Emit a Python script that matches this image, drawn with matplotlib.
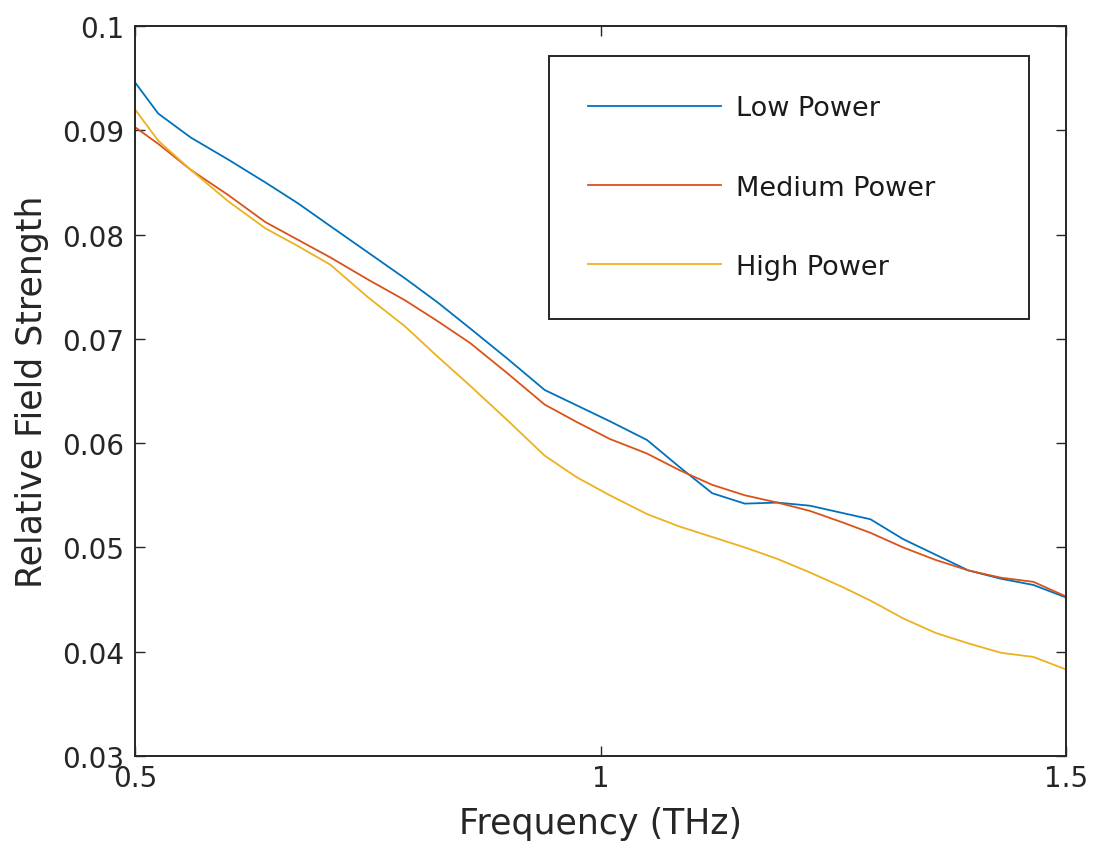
import numpy as np
import matplotlib.pyplot as plt

freq = [0.5, 0.525, 0.56, 0.6, 0.64, 0.675, 0.71, 0.75, 0.79, 0.825,
        0.86, 0.9, 0.94, 0.975, 1.01, 1.05, 1.085, 1.12, 1.155, 1.19,
        1.225, 1.26, 1.29, 1.325, 1.36, 1.395, 1.43, 1.465, 1.5]

low_power = [0.0946, 0.0916, 0.0893, 0.0872, 0.0850, 0.0830, 0.0808, 0.0783, 0.0758, 0.0735,
             0.0710, 0.0681, 0.0651, 0.0636, 0.0621, 0.0603, 0.0577, 0.0552, 0.0542, 0.0543,
             0.0540, 0.0533, 0.0527, 0.0508, 0.0493, 0.0478, 0.0470, 0.0464, 0.0452]

medium_power = [0.0903, 0.0887, 0.0862, 0.0838, 0.0812, 0.0795, 0.0778, 0.0757, 0.0737, 0.0717,
                0.0696, 0.0667, 0.0637, 0.0620, 0.0604, 0.0590, 0.0574, 0.0560, 0.0550, 0.0543,
                0.0535, 0.0524, 0.0514, 0.0500, 0.0488, 0.0478, 0.0471, 0.0467, 0.0453]

high_power = [0.0920, 0.0890, 0.0862, 0.0832, 0.0806, 0.0789, 0.0771, 0.0740, 0.0712, 0.0683,
              0.0655, 0.0622, 0.0588, 0.0567, 0.0550, 0.0532, 0.0520, 0.0510, 0.0500, 0.0489,
              0.0476, 0.0462, 0.0449, 0.0432, 0.0418, 0.0408, 0.0399, 0.0395, 0.0383]

axis_col = (0.15, 0.15, 0.15)

fig = plt.figure(figsize=(10.94, 8.45), dpi=100)
ax = fig.add_axes([135 / 1094, 1 - 757 / 845, 931 / 1094, 730 / 845])

ax.plot(freq, low_power, color='#0072BD', lw=1.3, label='Low Power')
ax.plot(freq, medium_power, color='#D95319', lw=1.3, label='Medium Power')
ax.plot(freq, high_power, color='#EDB120', lw=1.3, label='High Power')

ax.set_xlim(0.5, 1.5)
ax.set_ylim(0.03, 0.1)
ax.set_xticks([0.5, 1, 1.5])
ax.set_xticklabels(['0.5', '1', '1.5'])
ax.set_yticks(np.arange(0.03, 0.1001, 0.01))
ax.set_yticklabels(['0.03', '0.04', '0.05', '0.06', '0.07', '0.08', '0.09', '0.1'])

for s in ax.spines.values():
    s.set_color(axis_col)
    s.set_linewidth(1.4)
ax.tick_params(direction='in', top=True, right=True, length=7, width=1,
               colors=axis_col, labelsize=20)
ax.tick_params(axis='y', pad=7.5)
ax.tick_params(axis='x', pad=6)

ax.set_xlabel('Frequency (THz)', fontsize=25, color=axis_col, labelpad=10)
ax.set_ylabel('Relative Field Strength', fontsize=25, color=axis_col, labelpad=10)

leg = ax.legend(loc='upper left', bbox_to_anchor=(0.4447, 0.62, 0.5156, 0.339),
                mode='expand', fontsize=19.5, handlelength=4.9, handletextpad=0.55,
                labelspacing=1.97, borderpad=1.45, borderaxespad=0,
                fancybox=False, framealpha=1)
leg.get_frame().set_edgecolor(axis_col)
leg.get_frame().set_linewidth(1.4)
for t in leg.get_texts():
    t.set_color('#1a1a1a')

fig.savefig('out.png', dpi=100)
